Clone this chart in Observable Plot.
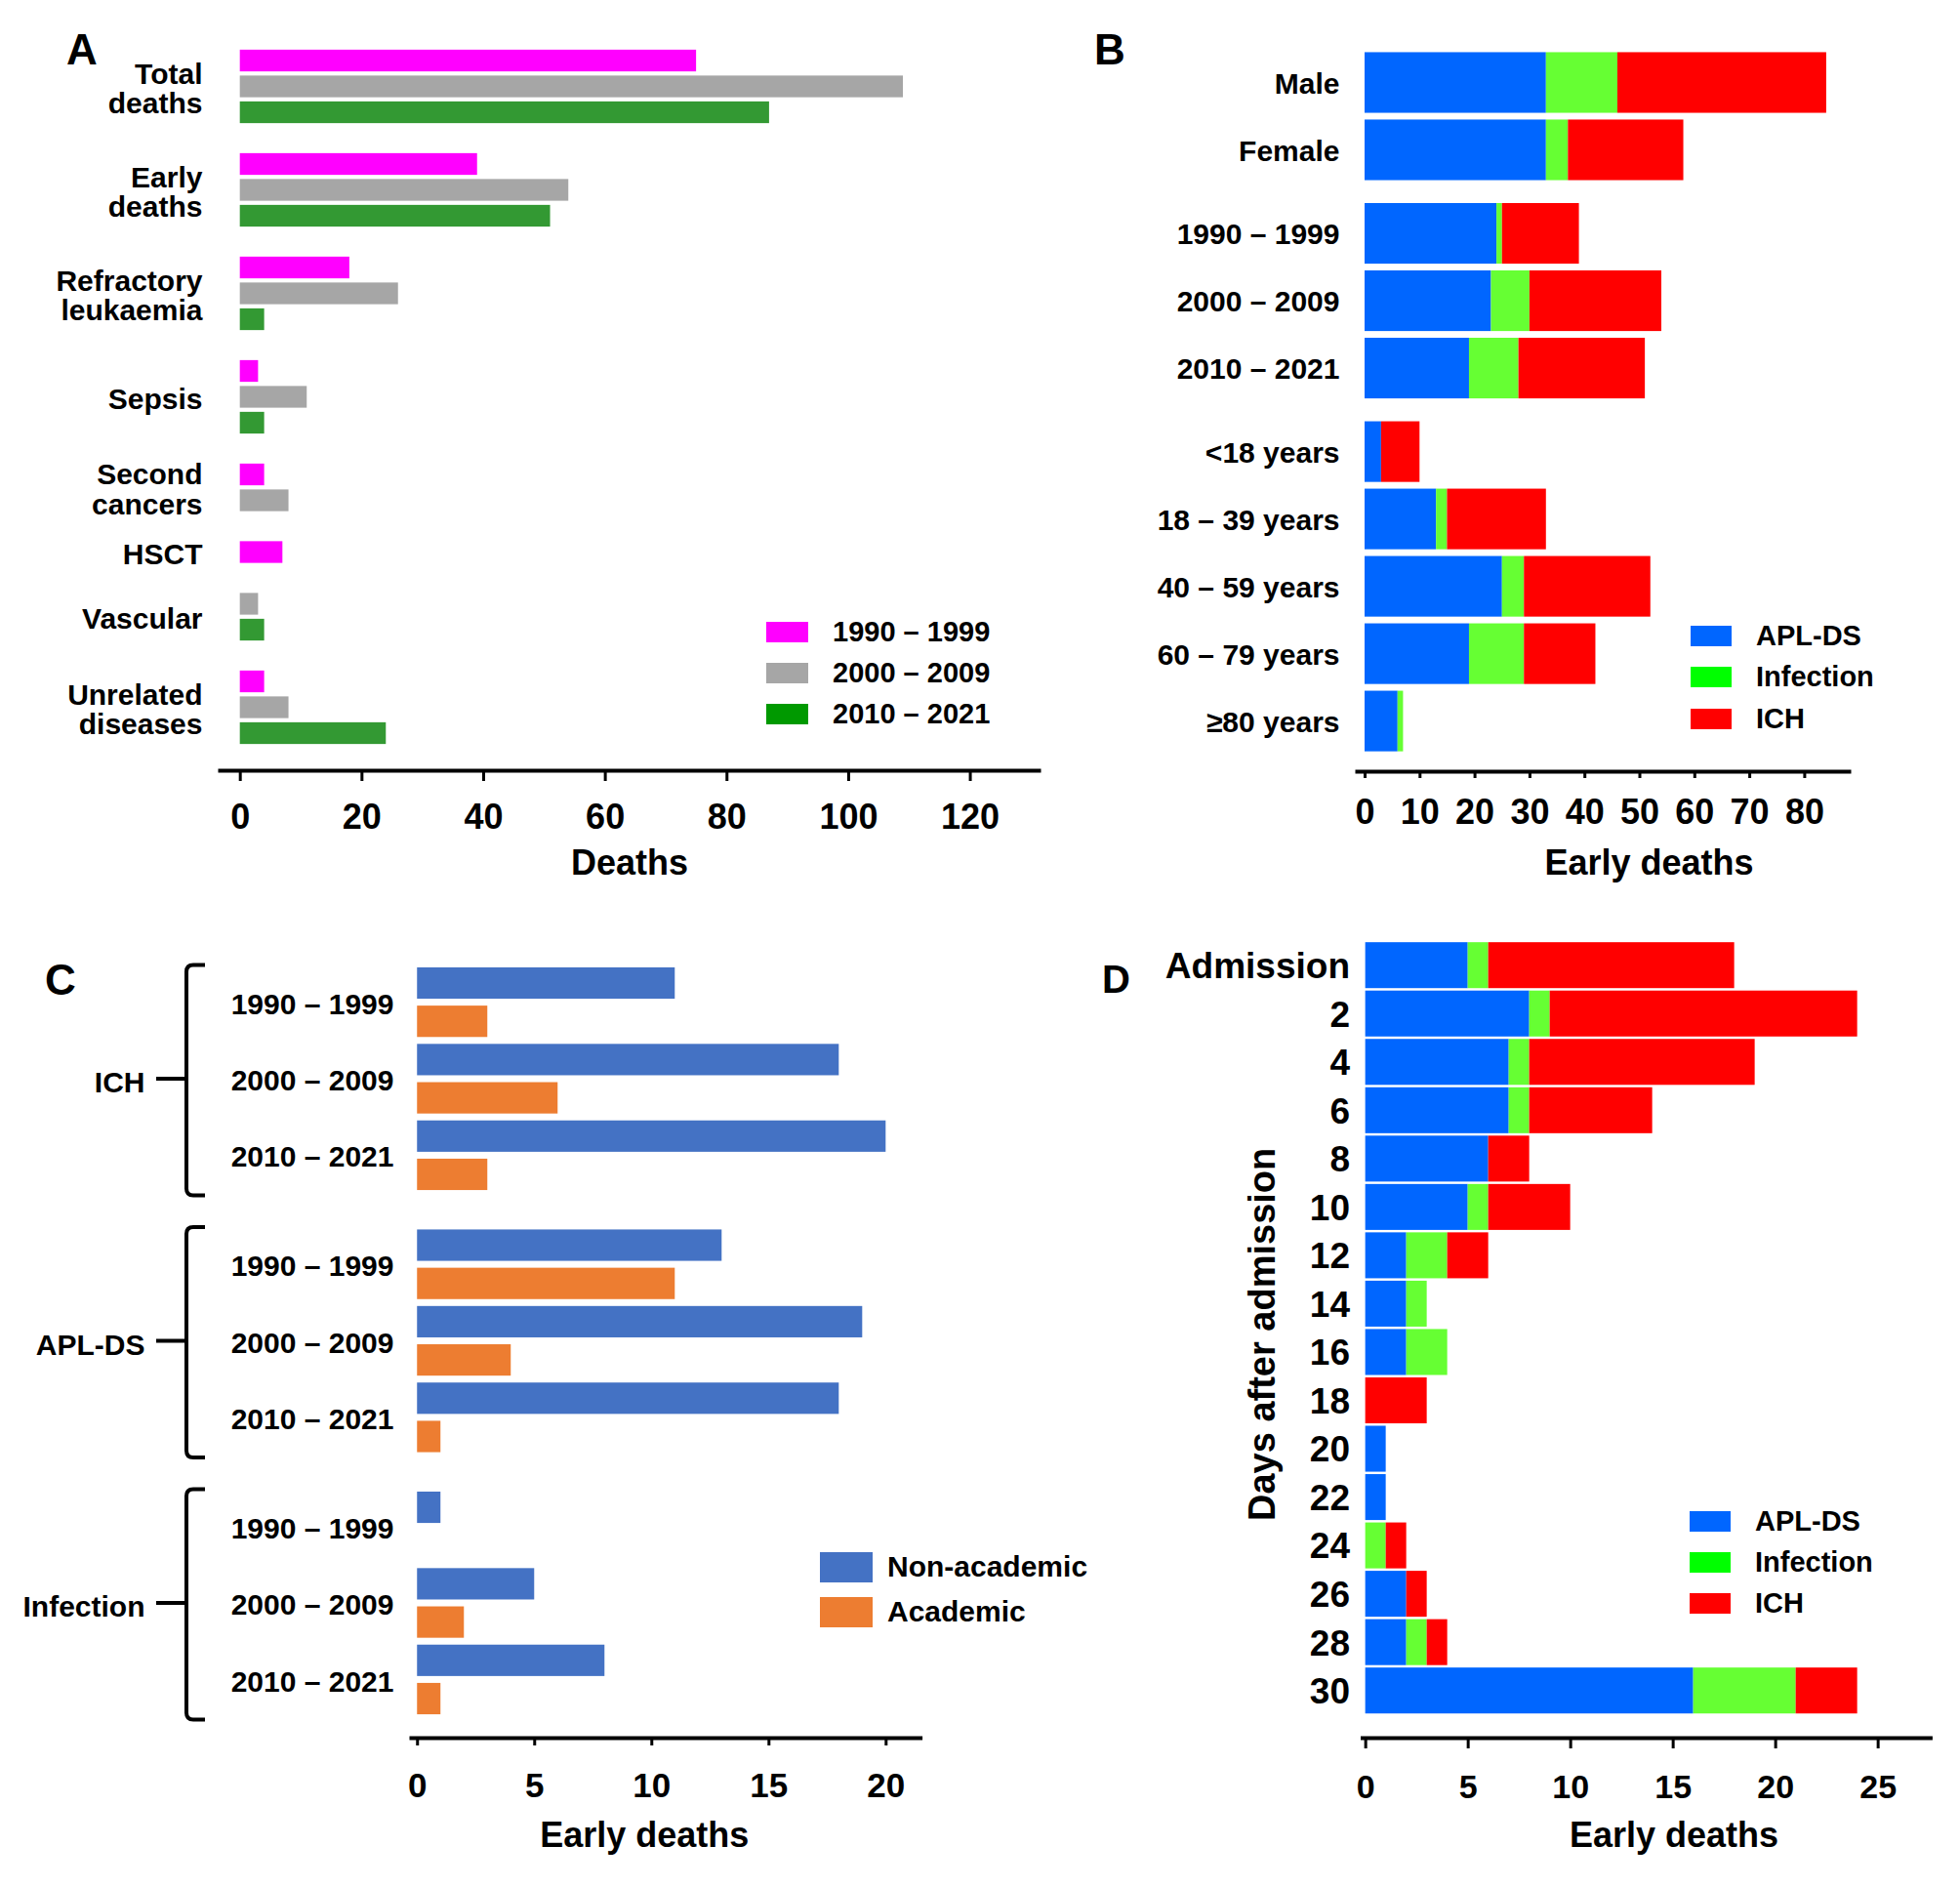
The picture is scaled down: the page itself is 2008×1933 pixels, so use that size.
<!DOCTYPE html>
<html>
<head>
<meta charset="utf-8">
<script src="https://cdn.jsdelivr.net/npm/d3@7"></script>
<script src="https://cdn.jsdelivr.net/npm/@observablehq/plot@0.6"></script>
<style>
  html, body { margin: 0; padding: 0; background: #fff; }
  #page { position: relative; width: 2008px; height: 1933px; overflow: hidden; background: #fff;
          font-family: "Liberation Sans", Arial, Helvetica, sans-serif; font-weight: bold; color: #000; }
  .panel { position: absolute; z-index: 1; }
  .letter { position: absolute; line-height: 1; font-weight: bold; z-index: 3; }
  .lg-row { position: absolute; display: flex; align-items: center; height: 40px; z-index: 3; }
  .lg-sw { flex: none; }
  .lg-tx { line-height: 1; white-space: nowrap; }
</style>
</head>
<body>
<div id="page"></div>
<script>
// ================= DATA =================
// Panel A – causes of death by period
const causesA = ["Total deaths", "Early deaths", "Refractory leukaemia", "Sepsis", "Second cancers", "HSCT", "Vascular", "Unrelated diseases"];
const causeLabelsA = ["Total\ndeaths", "Early\ndeaths", "Refractory\nleukaemia", "Sepsis", "Second\ncancers", "HSCT", "Vascular", "Unrelated\ndiseases"];
const periods = ["1990 – 1999", "2000 – 2009", "2010 – 2021"];
const deaths1990s = [75, 39, 18, 3, 4, 7, 0, 4];
const deaths2000s = [109, 54, 26, 11, 8, 0, 3, 8];
const deaths2010s = [87, 51, 4, 4, 0, 0, 4, 24];
const ticksA = [0, 20, 40, 60, 80, 100, 120];

// Panel B – early deaths by sex, period, age
const groupsB = ["Male", "Female", "1990 – 1999", "2000 – 2009", "2010 – 2021", "<18 years", "18 – 39 years", "40 – 59 years", "60 – 79 years", "≥80 years"];
const sectionsB = [0, 0, 1, 1, 1, 2, 2, 2, 2, 2];
const causesED = ["APL-DS", "Infection", "ICH"];
const aplDsB = [33, 33, 24, 23, 19, 3, 13, 25, 19, 6];
const infectionB = [13, 4, 1, 7, 9, 0, 2, 4, 10, 1];
const ichB = [38, 21, 14, 24, 23, 7, 18, 23, 13, 0];
const ticksB = [0, 10, 20, 30, 40, 50, 60, 70, 80];

// Panel C – early deaths by hospital type
const causesC = ["ICH", "APL-DS", "Infection"];
const settingsC = ["Non-academic", "Academic"];
const ichNonAcademic = [11, 18, 20];
const ichAcademic = [3, 6, 3];
const aplDsNonAcademic = [13, 19, 18];
const aplDsAcademic = [11, 4, 1];
const infectionNonAcademic = [1, 5, 8];
const infectionAcademic = [0, 2, 1];
const ticksC = [0, 5, 10, 15, 20];

// Panel D – early deaths by days after admission
const daysD = ["Admission", "2", "4", "6", "8", "10", "12", "14", "16", "18", "20", "22", "24", "26", "28", "30"];
const aplDsD = [5, 8, 7, 7, 6, 5, 2, 2, 2, 0, 1, 1, 0, 2, 2, 16];
const infectionD = [1, 1, 1, 1, 0, 1, 2, 1, 2, 0, 0, 0, 1, 0, 1, 5];
const ichD = [12, 15, 11, 6, 2, 4, 2, 0, 0, 3, 0, 0, 1, 1, 1, 3];
const ticksD = [0, 5, 10, 15, 20, 25];

// ================= STYLE =================
const FONT = '"Liberation Sans", Arial, Helvetica, sans-serif';
const colorsA = ["#ff00ff", "#a6a6a6", "#339933"];
const legendColorsA = ["#ff00ff", "#a6a6a6", "#009900"];
const colorsED = ["#0066ff", "#66ff33", "#ff0000"];
const legendColorsED = ["#0066ff", "#00ff00", "#ff0000"];
const colorsC = ["#4472c4", "#ed7d31"];
const svgStyle = {fontFamily: FONT, fontWeight: "bold", color: "#000", background: "transparent", overflow: "visible"};

const page = document.getElementById("page");
function place(node, left, top) {
  const d = document.createElement("div");
  d.className = "panel";
  d.style.left = left + "px";
  d.style.top = top + "px";
  d.append(node);
  page.append(d);
}
function letter(txt, left, top, size) {
  const d = document.createElement("div");
  d.className = "letter";
  d.style.left = left + "px"; d.style.top = top + "px"; d.style.fontSize = size + "px";
  d.textContent = txt;
  page.append(d);
}
function legend(labels, colors, o) {
  labels.forEach((label, i) => {
    const row = document.createElement("div");
    row.className = "lg-row";
    row.style.left = o.x + "px";
    row.style.top = (o.y0 + i * o.pitch - 20) + "px";
    const sq = document.createElement("div");
    sq.className = "lg-sw";
    sq.style.width = o.sw + "px"; sq.style.height = o.sh + "px";
    sq.style.background = colors[i];
    sq.style.marginRight = (o.textX - o.x - o.sw) + "px";
    const tx = document.createElement("span");
    tx.className = "lg-tx";
    tx.style.fontSize = o.fontSize + "px";
    tx.textContent = label;
    row.append(sq, tx);
    page.append(row);
  });
}

// ================= PANEL A =================
{
  const series = [deaths1990s, deaths2000s, deaths2010s];
  const rows = [], groups = [];
  let s = 0;
  causesA.forEach((c, i) => {
    const first = s;
    periods.forEach((p, j) => {
      const v = series[j][i];
      if (v > 0) { rows.push({cause: c, period: p, value: v, pos: s}); s += 1; }
    });
    groups.push({label: causeLabelsA[i], pos: (first + s - 1) / 2});
    s += 1;
  });
  const last = s - 2;
  const W = 1070, H = 950, axisY = 789;
  const chart = Plot.plot({
    width: W, height: H,
    marginLeft: 225, marginRight: 6, marginTop: 62, marginBottom: H - axisY,
    insetBottom: 38,
    x: {domain: [-3.32, 131.3]},
    y: {domain: [0, last], reverse: true, axis: null},
    color: {domain: periods, range: colorsA},
    style: svgStyle,
    marks: [
      Plot.rectX(rows, {x1: 0, x2: "value", y1: d => d.pos - 0.42, y2: d => d.pos + 0.42, fill: "period"}),
      Plot.text(groups, {y: "pos", text: "label", frameAnchor: "left", textAnchor: "end", dx: -18, dy: 2, fontSize: 30, lineHeight: 1.02}),
      Plot.frame({anchor: "bottom", strokeWidth: 4}),
      Plot.axisX({ticks: ticksA, tickSize: 11, tickPadding: 23, fontSize: 36, strokeWidth: 3, label: null}),
      Plot.text(["Deaths"], {frameAnchor: "bottom", dy: 106, fontSize: 36})
    ]
  });
  place(chart, 0, 0);
  legend(periods, legendColorsA, {x: 785, y0: 647, pitch: 42, sw: 43, sh: 21, textX: 853, fontSize: 29});
  letter("A", 68, 29, 44);
}

// ================= PANEL B =================
{
  const pos = [];
  let p = 0;
  groupsB.forEach((g, i) => {
    if (i > 0 && sectionsB[i] !== sectionsB[i - 1]) p += 0.24;
    pos.push(p); p += 1;
  });
  const series = [aplDsB, infectionB, ichB];
  const rows = [];
  groupsB.forEach((g, i) => series.forEach((arr, k) => {
    if (arr[i] > 0) rows.push({group: g, cause: causesED[k], value: arr[i], pos: pos[i]});
  }));
  const labels = groupsB.map((g, i) => ({label: g, pos: pos[i]}));
  const W = 938, H = 950, axisY = 790;
  const chart = Plot.plot({
    width: W, height: H,
    marginLeft: 320, marginRight: 114, marginTop: 84.5, marginBottom: H - axisY,
    insetBottom: 51.4,
    x: {domain: [-1.42, 88.1]},
    y: {domain: [0, pos[pos.length - 1]], reverse: true, axis: null},
    color: {domain: causesED, range: colorsED},
    style: svgStyle,
    marks: [
      Plot.rectX(rows, {x: "value", y1: d => d.pos - 0.45, y2: d => d.pos + 0.45, fill: "cause"}),
      Plot.text(labels, {y: "pos", text: "label", frameAnchor: "left", textAnchor: "end", dx: -18, dy: 1, fontSize: 30}),
      Plot.frame({anchor: "bottom", strokeWidth: 4}),
      Plot.axisX({ticks: ticksB, tickSize: 7, tickPadding: 21, fontSize: 36, strokeWidth: 3, label: null}),
      Plot.text(["Early deaths"], {frameAnchor: "bottom", dy: 105, dx: 47, fontSize: 36})
    ]
  });
  place(chart, 1070, 0);
  legend(causesED, legendColorsED, {x: 1732, y0: 651, pitch: 42.5, sw: 42, sh: 21, textX: 1799, fontSize: 29});
  letter("B", 1121, 29, 44);
}

// ================= PANEL C =================
{
  const nonAc = [ichNonAcademic, aplDsNonAcademic, infectionNonAcademic];
  const ac = [ichAcademic, aplDsAcademic, infectionAcademic];
  const step = 6.85;
  const rows = [], periodLabels = [], groups = [];
  causesC.forEach((c, ci) => {
    const base0 = ci * step;
    periods.forEach((p, pj) => {
      const base = base0 + pj * 2;
      if (nonAc[ci][pj] > 0) rows.push({cause: c, period: p, setting: settingsC[0], value: nonAc[ci][pj], pos: base});
      if (ac[ci][pj] > 0) rows.push({cause: c, period: p, setting: settingsC[1], value: ac[ci][pj], pos: base + 1});
      periodLabels.push({label: p, pos: base + 0.5});
    });
    groups.push({label: c, mid: base0 + 2.5, start: base0 - 0.47, end: base0 + 5.55});
  });
  const last = (causesC.length - 1) * step + 5;
  const bracket = (index, scales, values, dims) => {
    const g = d3.create("svg:g")
      .attr("fill", "none").attr("stroke", "#000").attr("stroke-width", 4)
      .attr("stroke-linejoin", "round");
    const xv = dims.marginLeft - 230, xh = dims.marginLeft - 211, xm = dims.marginLeft - 261, r = 7;
    for (const b of groups) {
      const y0 = scales.y(b.start), y1 = scales.y(b.end), ym = scales.y(b.mid);
      g.append("path").attr("d",
        `M${xh},${y0}H${xv + r}Q${xv},${y0} ${xv},${y0 + r}V${y1 - r}Q${xv},${y1} ${xv + r},${y1}H${xh}M${xm},${ym}H${xv}`);
    }
    return g.node();
  };
  const W = 1070, H = 983, axisY = 830;
  const chart = Plot.plot({
    width: W, height: H,
    marginLeft: 421, marginRight: 127.4, marginTop: 57, marginBottom: H - axisY,
    insetBottom: 40,
    x: {domain: [-0.26, 21.47]},
    y: {domain: [0, last], reverse: true, axis: null},
    color: {domain: settingsC, range: colorsC},
    style: svgStyle,
    marks: [
      Plot.rectX(rows, {x1: 0, x2: "value", y1: d => d.pos - 0.41, y2: d => d.pos + 0.41, fill: "setting"}),
      Plot.text(periodLabels, {y: "pos", text: "label", frameAnchor: "left", textAnchor: "end", dx: -18, dy: 2, fontSize: 30}),
      Plot.text(groups, {y: "mid", text: "label", frameAnchor: "left", textAnchor: "end", dx: -273, dy: 4, fontSize: 30}),
      bracket,
      Plot.frame({anchor: "bottom", strokeWidth: 4}),
      Plot.axisX({ticks: ticksC, tickSize: 8, tickPadding: 28, fontSize: 35, strokeWidth: 3, label: null}),
      Plot.text(["Early deaths"], {frameAnchor: "bottom", dy: 111, dx: -22, fontSize: 36})
    ]
  });
  place(chart, 0, 950);
  legend(settingsC, colorsC, {x: 840, y0: 1605, pitch: 46, sw: 54, sh: 31, textX: 909, fontSize: 30});
  letter("C", 46, 982, 44);
}

// ================= PANEL D =================
{
  const series = [aplDsD, infectionD, ichD];
  const rows = [];
  daysD.forEach((d, i) => series.forEach((arr, k) => {
    if (arr[i] > 0) rows.push({day: d, cause: causesED[k], value: arr[i], pos: i});
  }));
  const labels = daysD.map((d, i) => ({label: d, pos: i}));
  const W = 938, H = 983, axisY = 830;
  const chart = Plot.plot({
    width: W, height: H,
    marginLeft: 325.5, marginRight: 30.6, marginTop: 38.7, marginBottom: H - axisY,
    insetBottom: 48.3,
    x: {domain: [-0.15, 27.56]},
    y: {domain: [0, daysD.length - 1], reverse: true, axis: null},
    color: {domain: causesED, range: colorsED},
    style: svgStyle,
    marks: [
      Plot.rectX(rows, {x: "value", y1: d => d.pos - 0.475, y2: d => d.pos + 0.475, fill: "cause"}),
      Plot.text(labels, {y: "pos", text: "label", frameAnchor: "left", textAnchor: "end", dx: -13, dy: 1, fontSize: 37}),
      Plot.text(["Days after admission"], {frameAnchor: "left", textAnchor: "middle", rotate: -90, dx: -102, dy: -18, fontSize: 38}),
      Plot.frame({anchor: "bottom", strokeWidth: 4}),
      Plot.axisX({ticks: ticksD, tickSize: 11, tickPadding: 26, fontSize: 34, strokeWidth: 3, label: null}),
      Plot.text(["Early deaths"], {frameAnchor: "bottom", dy: 111, dx: 28, fontSize: 36})
    ]
  });
  place(chart, 1070, 950);
  legend(causesED, legendColorsED, {x: 1731, y0: 1558, pitch: 42, sw: 42, sh: 21, textX: 1798, fontSize: 29});
  letter("D", 1129, 983, 40);
}
</script>
</body>
</html>
